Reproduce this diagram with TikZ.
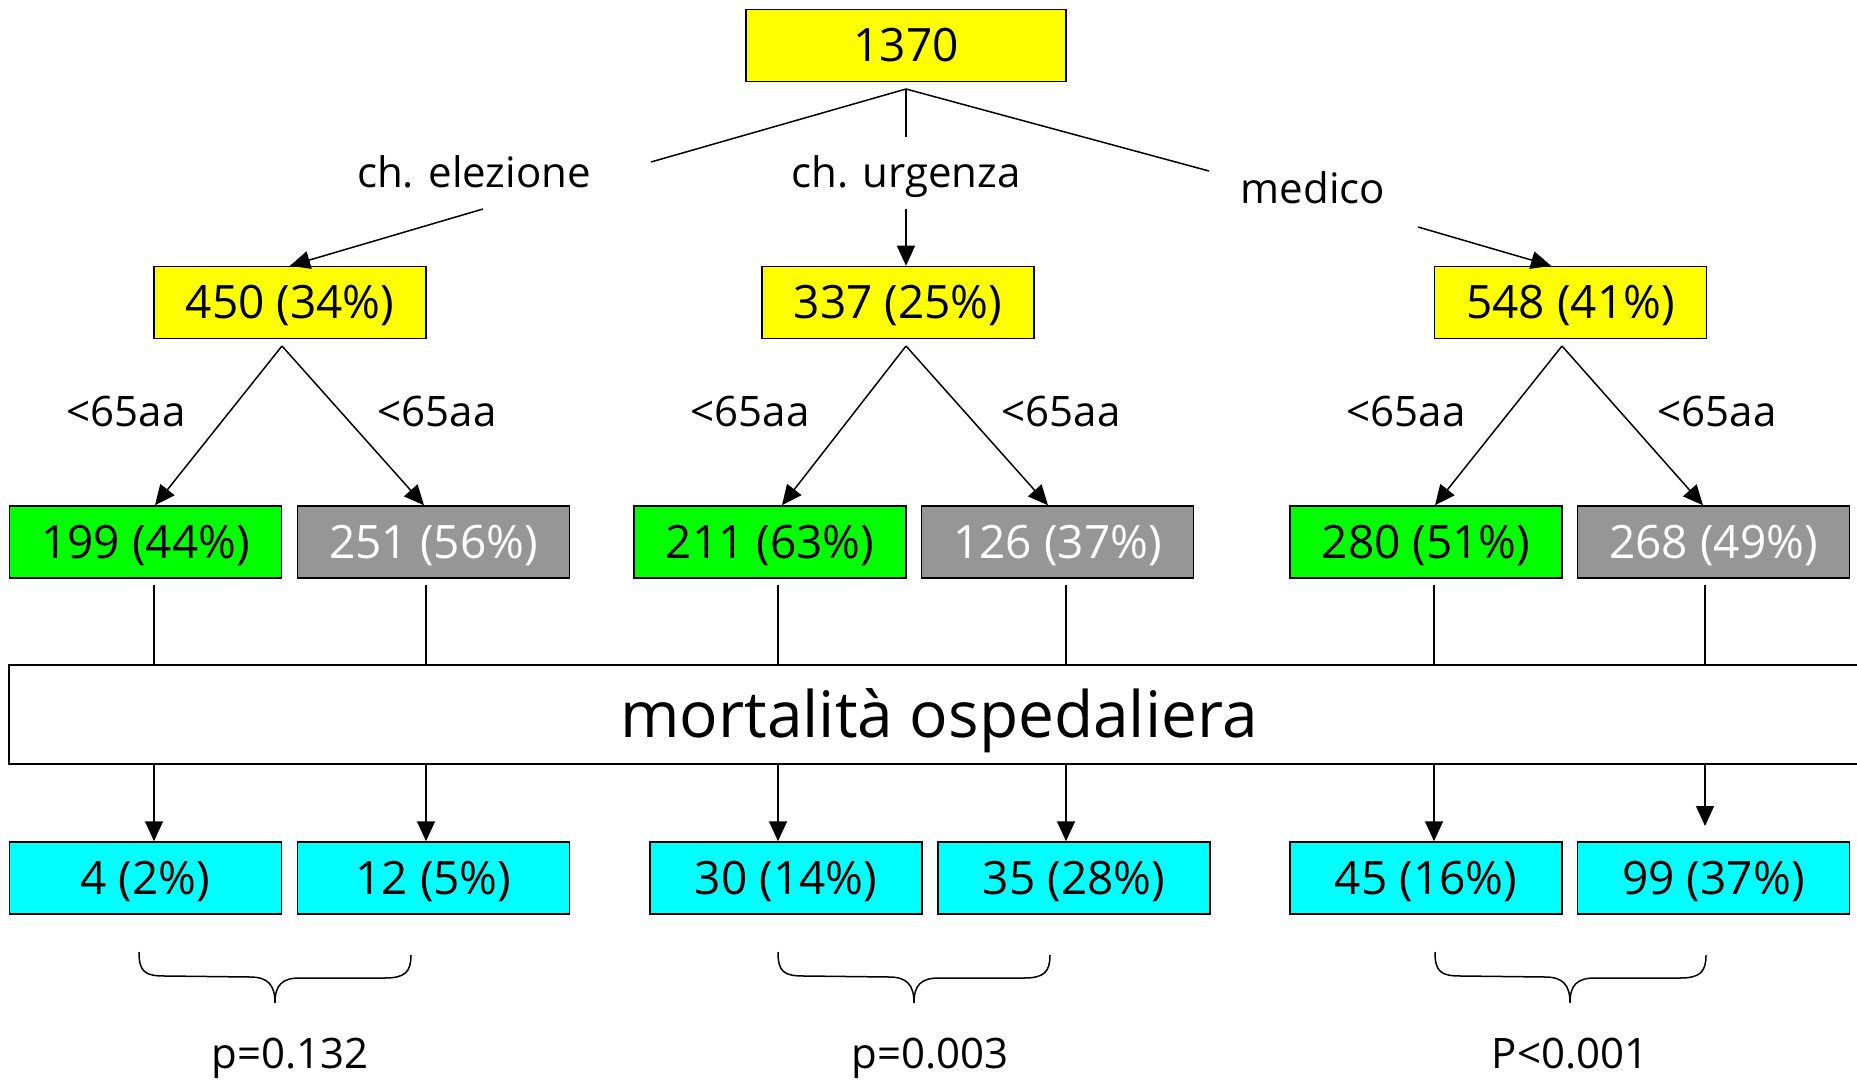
\documentclass[tikz,border=0pt]{standalone}
\usepackage{fontspec}
\setmainfont{Open Sans}
\usetikzlibrary{arrows.meta,calc}
\definecolor{yel}{HTML}{FFFF00}
\definecolor{grn}{HTML}{00FF00}
\definecolor{gry}{HTML}{969696}
\definecolor{cya}{HTML}{00FFFF}
\begin{document}
\begin{tikzpicture}[x=0.5pt,y=-0.5pt,
  box/.style={draw=black,line width=0.75pt,minimum width=136pt,minimum height=36pt,inner sep=0pt,
    text height=20pt,text depth=4pt,font=\fontsize{23}{26}\selectfont},
  yb/.style={box,fill=yel},
  gb/.style={box,fill=grn},
  sb/.style={box,fill=gry,text=white},
  cb/.style={box,fill=cya},
  lbl/.style={inner sep=0pt,anchor=base,font=\fontsize{21}{24}\selectfont},
  ln/.style={line width=0.75pt},
  arr/.style={ln,-{Triangle[length=10pt,width=9pt]}}]
\useasboundingbox (0,0) rectangle (1857,1080);
% level 1
\node[yb,minimum width=160pt] (n1370) at (906,45.5) {1370};
% level 2
\node[yb] (n450) at (290,302.5) {450 (34\%)};
\node[yb] (n337) at (898,302.5) {337 (25\%)};
\node[yb] (n548) at (1570.5,302.5) {548 (41\%)};
% labels level 1->2
\node[lbl] (le) at (474,188) {ch. elezione};
\node[lbl] (lu) at (906,188) {ch. urgenza};
\node[lbl] (lm) at (1313,204) {medico};
% level 3
\node[gb] (b199) at (145.5,542) {199 (44\%)};
\node[sb] (b251) at (433.5,542) {251 (56\%)};
\node[gb] (b211) at (770,542) {211 (63\%)};
\node[sb] (b126) at (1057.5,542) {126 (37\%)};
\node[gb] (b280) at (1426,542) {280 (51\%)};
\node[sb] (b268) at (1713.5,542) {268 (49\%)};
% age labels
\foreach \x [count=\i] in {126,437,750,1061,1406,1717}
  \node[lbl] (age\i) at (\x,427) {<65aa};
% mortality box
\node[draw=black,line width=0.75pt,minimum width=935.5pt,minimum height=49.5pt,inner sep=0pt] (mort) at (944.5,714.5) {};
\node[inner sep=0pt,anchor=base,font=\fontsize{32}{36}\selectfont] (mortt) at (939,737) {mortalità ospedaliera};
% level 4
\node[cb] (c4) at (145.5,878) {4 (2\%)};
\node[cb] (c12) at (433.5,878) {12 (5\%)};
\node[cb] (c30) at (786,878) {30 (14\%)};
\node[cb] (c35) at (1074,878) {35 (28\%)};
\node[cb] (c45) at (1426,878) {45 (16\%)};
\node[cb] (c99) at (1713.5,878) {99 (37\%)};
% p-values
\node[lbl] (p1) at (290,1068) {p=0.132};
\node[lbl] (p2) at (930,1068) {p=0.003};
\node[lbl] (p3) at (1570,1068) {P<0.001};
% connectors level 1 -> 2
\coordinate (apx) at (906,89);
\coordinate (e1) at (651,162); \coordinate (e2) at (483,209);
\coordinate (u1) at (906,137); \coordinate (u2) at (906,209);
\coordinate (m1) at (1209,171); \coordinate (m2) at (1418,227);
\draw[ln] (apx) -- (e1);
\draw[arr] (e2) -- (290,0 |- n450.north);
\draw[ln] (apx) -- (u1);
\draw[arr] (u2) -- (906,0 |- n337.north);
\draw[ln] (apx) -- (m1);
\draw[arr] (m2) -- (1551,0 |- n548.north);
% connectors level 2 -> 3
\coordinate (a1) at (282,346);
\coordinate (a2) at (906,346);
\coordinate (a3) at (1562,346);
\draw[arr] (a1) -- (155,0 |- b199.north);
\draw[arr] (a1) -- (424,0 |- b251.north);
\draw[arr] (a2) -- (782,0 |- b211.north);
\draw[arr] (a2) -- (1048,0 |- b126.north);
\draw[arr] (a3) -- (1435,0 |- b280.north);
\draw[arr] (a3) -- (1703,0 |- b268.north);
% to mortality box
\foreach \x in {154,426,778,1066,1434,1705}
  \draw[ln] (\x,585) -- (\x,0 |- mort.north);
% mortality -> outcomes
\draw[arr] (154,0 |- mort.south) -- (154,0 |- c4.north);
\draw[arr] (426,0 |- mort.south) -- (426,0 |- c12.north);
\draw[arr] (778,0 |- mort.south) -- (778,0 |- c30.north);
\draw[arr] (1066,0 |- mort.south) -- (1066,0 |- c35.north);
\draw[arr] (1434,0 |- mort.south) -- (1434,0 |- c45.north);
\coordinate (end99) at (1705,826);
\draw[arr] (1705,0 |- mort.south) -- (end99);
% braces
\foreach \a/\c/\b in {139/275/411, 778/914/1050, 1435/1570/1706}
  \draw[ln] (\a,952) .. controls (\a,972) and (\a+6,976) .. (\a+26,976) -- (\c-25,977)
    .. controls (\c-7,977) and (\c,985) .. (\c,1003)
    .. controls (\c,985) and (\c+7,978) .. (\c+25,978) -- (\b-26,978)
    .. controls (\b-6,978) and (\b,972) .. (\b,955);
\end{tikzpicture}
\end{document}
